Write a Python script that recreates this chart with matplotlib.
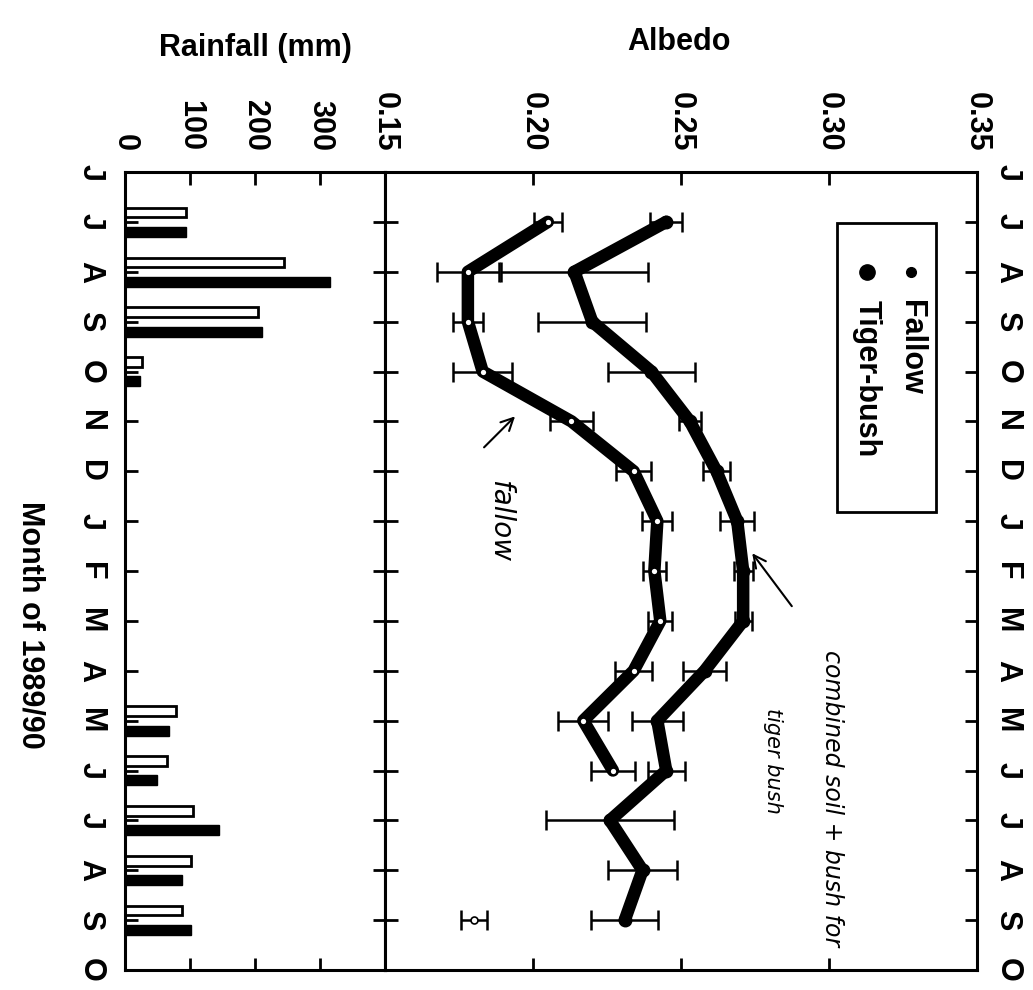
import matplotlib.pyplot as plt
import numpy as np
from matplotlib.patches import Rectangle

plt.rcParams["font.family"] = ["Liberation Sans", "DejaVu Sans"]
plt.rcParams["font.weight"] = "bold"
plt.rcParams["font.size"] = 22

# month axis, June 1989 .. October 1990 (index 0 .. 16)
months = ["J", "J", "A", "S", "O", "N", "D", "J", "F", "M", "A", "M", "J", "J", "A", "S", "O"]
month_pos = np.arange(len(months))

# albedo, one value per month from July 1989 (index 1) to September 1990 (index 15)
albedo_months = np.arange(1, 16)
tiger_bush = [0.245, 0.214, 0.220, 0.240, 0.253, 0.262, 0.269, 0.271,
              0.271, 0.258, 0.242, 0.245, 0.226, 0.237, 0.231]
tiger_bush_err = [0.0054, 0.0247, 0.0182, 0.0146, 0.0036, 0.0047, 0.0058, 0.0032,
                  0.0029, 0.0073, 0.0087, 0.0063, 0.0215, 0.0116, 0.0113]
fallow = [0.205, 0.178, 0.178, 0.183, 0.213, 0.234, 0.242, 0.241,
          0.243, 0.234, 0.217, 0.227, np.nan, np.nan, 0.180]
fallow_err = [0.0048, 0.0105, 0.0051, 0.0099, 0.0073, 0.0058, 0.0051, 0.0039,
              0.0041, 0.0063, 0.0084, 0.0073, np.nan, np.nan, 0.0044]

# monthly rainfall (mm), two gauges
rain_months = [1, 2, 3, 4, 11, 12, 13, 14, 15]
rain_open = [94, 244, 205, 26, 78, 64, 105, 101, 87]
rain_filled = [94, 315, 210, 23, 68, 49, 144, 87, 101]

rain_ticks = [0, 100, 200, 300]
albedo_ticks = [0.15, 0.20, 0.25, 0.30, 0.35]
albedo_tick_labels = ["0.15", "0.20", "0.25", "0.30", "0.35"]

W, H = 1033, 990
fig = plt.figure(figsize=(W / 100, H / 100), dpi=100)
ax_r = fig.add_axes([125 / W, 1 - 970 / H, 260 / W, 798 / H])
ax_a = fig.add_axes([385 / W, 1 - 970 / H, 592 / W, 798 / H])

# rainfall bars
rain_y = np.array(rain_months)
ax_r.barh(rain_y - 0.19, rain_open, height=0.19, color="white",
          edgecolor="black", linewidth=2)
ax_r.barh(rain_y + 0.2, rain_filled, height=0.2, color="black",
          edgecolor="black", linewidth=1)
ax_r.set_xlim(0, 400)

# albedo curves with error bars
tb = np.array(tiger_bush)
tbe = np.array(tiger_bush_err)
fa = np.array(fallow)
fae = np.array(fallow_err)
ok = ~np.isnan(fa)

err_style = dict(fmt="none", ecolor="black", elinewidth=1.8, capsize=7, capthick=1.8)
ax_a.errorbar(tb, albedo_months, xerr=tbe, **err_style)
ax_a.errorbar(fa[ok], albedo_months[ok], xerr=fae[ok], **err_style)

line_style = dict(color="black", lw=9, solid_joinstyle="round", solid_capstyle="round")
ax_a.plot(tb, albedo_months, marker="o", ms=9, **line_style)
ax_a.plot(fa, albedo_months, **line_style)
ax_a.plot(fa, albedo_months, ls="none", marker="o", ms=5, mfc="white", mec="black", mew=1.2)
ax_a.set_xlim(0.15, 0.35)

# axes styling
for ax in (ax_r, ax_a):
    for s in ax.spines.values():
        s.set_linewidth(2.2)
    ax.set_ylim(16, 0)
    ax.set_yticks(month_pos)
    ax.set_yticklabels(months, rotation=270, va="center")
    ax.tick_params(axis="both", direction="in", width=2, length=9,
                   top=True, bottom=True, left=True, right=True,
                   labeltop=True, labelbottom=False)
    ax.tick_params(axis="x", pad=15)

ax_r.set_xticks(rain_ticks)
ax_r.set_xticklabels([str(t) for t in rain_ticks], rotation=270)
ax_r.tick_params(axis="y", labelleft=True, labelright=False, pad=14)

ax_a.set_xticks(albedo_ticks)
ax_a.set_xticklabels(albedo_tick_labels, rotation=270)
ax_a.tick_params(axis="y", labelleft=False, labelright=True, pad=11)

# legend drawn by hand so it can be turned with the rest of the page
ax_a.add_patch(Rectangle((0.7635, 0.574), 0.1672, 0.362, transform=ax_a.transAxes,
                         facecolor="white", edgecolor="black", lw=2, zorder=5))
ax_a.plot([0.8885], [0.8747], "o", ms=7, color="black", transform=ax_a.transAxes, zorder=6)
ax_a.plot([0.8142], [0.8747], "o", ms=11, color="black", transform=ax_a.transAxes, zorder=6)
ax_a.text(0.8885, 0.84, "Fallow", rotation=270, ha="center", va="top",
          transform=ax_a.transAxes, zorder=6)
ax_a.text(0.8142, 0.84, "Tiger-bush", rotation=270, ha="center", va="top",
          transform=ax_a.transAxes, zorder=6)

# handwritten notes on the scan
note = dict(rotation=270, ha="center", va="center", fontweight="normal",
            fontstyle="italic", family="DejaVu Sans")
ax_a.text(0.189, 7.0, "fallow", fontsize=20, **note)
ax_a.annotate("", xy=(0.1946, 4.86), xytext=(0.1828, 5.56),
              arrowprops=dict(arrowstyle="->", lw=1.5, color="black"))
ax_a.text(0.301, 12.56, "combined soil + bush for", fontsize=17, **note)
ax_a.text(0.281, 11.8, "tiger bush", fontsize=15, **note)
ax_a.annotate("", xy=(0.2735, 7.6), xytext=(0.288, 8.75),
              arrowprops=dict(arrowstyle="->", lw=1.5, color="black"))

fig.text(255 / W, 1 - 48 / H, "Rainfall (mm)", ha="center", va="center")
fig.text(679 / W, 1 - 42 / H, "Albedo", ha="center", va="center")
fig.text(30 / W, 1 - 625 / H, "Month of 1989/90", rotation=270, ha="center", va="center")

plt.savefig("out.png", dpi=100)
